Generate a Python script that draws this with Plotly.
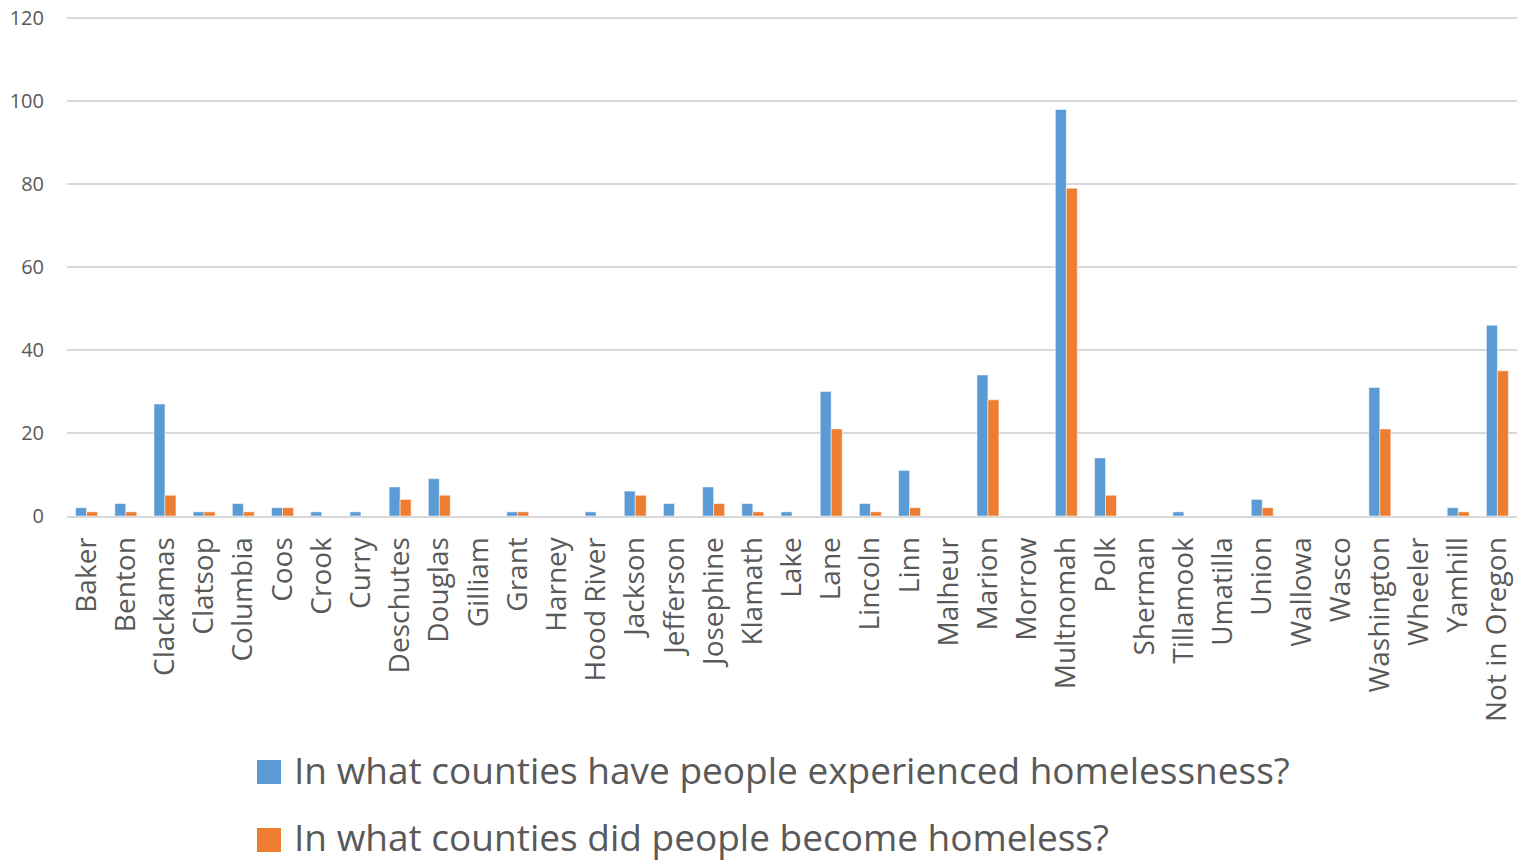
import plotly.graph_objects as go

counties = ["Baker", "Benton", "Clackamas", "Clatsop", "Columbia", "Coos", "Crook", "Curry",
            "Deschutes", "Douglas", "Gilliam", "Grant", "Harney", "Hood River", "Jackson",
            "Jefferson", "Josephine", "Klamath", "Lake", "Lane", "Lincoln", "Linn", "Malheur",
            "Marion", "Morrow", "Multnomah", "Polk", "Sherman", "Tillamook", "Umatilla", "Union",
            "Wallowa", "Wasco", "Washington", "Wheeler", "Yamhill", "Not in Oregon"]
experienced = [2, 3, 27, 1, 3, 2, 1, 1, 7, 9, 0, 1, 0, 1, 6, 3, 7, 3, 1, 30, 3, 11, 0,
               34, 0, 98, 14, 0, 1, 0, 4, 0, 0, 31, 0, 2, 46]
became = [1, 1, 5, 1, 1, 2, 0, 0, 4, 5, 0, 1, 0, 0, 5, 0, 3, 1, 0, 21, 1, 2, 0,
          28, 0, 79, 5, 0, 0, 0, 2, 0, 0, 21, 0, 1, 35]
series_names = ["In what counties have people experienced homelessness?",
                "In what counties did people become homeless?"]
y_ticks = [0, 20, 40, 60, 80, 100, 120]

BLUE = "#5B9BD5"
ORANGE = "#ED7D31"
TEXT = "#595959"
GRID = "#D9D9D9"
FONT = "Open Sans"

W, H = 1534, 861
ML, MR, MT, MB = 67, 17, 17, 345
PW = W - ML - MR
PH = H - MT - MB


def px_x(x):
    return (x - ML) / PW


def px_y(y):
    return (H - MB - y) / PH


fig = go.Figure()
fig.add_trace(go.Bar(x=counties, y=experienced, name=series_names[0], marker_color=BLUE,
                     marker_line_color="white", marker_line_width=0.5))
fig.add_trace(go.Bar(x=counties, y=became, name=series_names[1], marker_color=ORANGE,
                     marker_line_color="white", marker_line_width=0.5))

# Legend drawn as squares + text (large swatches like the original)
legend_rows = [(760, BLUE), (828, ORANGE)]
shapes = []
annotations = []
for (top, col), name in zip(legend_rows, series_names):
    shapes.append(dict(type="rect", xref="paper", yref="paper",
                       x0=px_x(257), x1=px_x(281), y0=px_y(top + 24), y1=px_y(top),
                       fillcolor=col, line=dict(width=0)))
    annotations.append(dict(text=name, xref="paper", yref="paper", x=px_x(292),
                            y=px_y(top + 9), xanchor="left", yanchor="middle",
                            showarrow=False, font=dict(family=FONT, size=37, color=TEXT)))

fig.update_layout(
    width=W, height=H,
    margin=dict(l=ML, r=MR, t=MT, b=MB),
    paper_bgcolor="white", plot_bgcolor="white",
    barmode="group", bargap=0.44, bargroupgap=0,
    showlegend=False,
    shapes=shapes, annotations=annotations,
    font=dict(family=FONT, color=TEXT),
    xaxis=dict(type="category", tickangle=-90, tickfont=dict(family=FONT, size=28, color=TEXT),
               ticks="outside", ticklen=8, tickcolor="rgba(0,0,0,0)", automargin=False,
               showline=True, linecolor=GRID, linewidth=2, showgrid=False),
    yaxis=dict(range=[0, 120.3], tickvals=y_ticks, tickfont=dict(family=FONT, size=20, color=TEXT),
               ticks="outside", ticklen=18, tickcolor="rgba(0,0,0,0)", automargin=False,
               showgrid=True, gridcolor=GRID, gridwidth=1.5, zeroline=False,
               showline=False),
)

fig.write_html("out.html", config={"displayModeBar": False},
               post_script="document.body.style.margin='0';document.body.style.overflow='hidden';")
